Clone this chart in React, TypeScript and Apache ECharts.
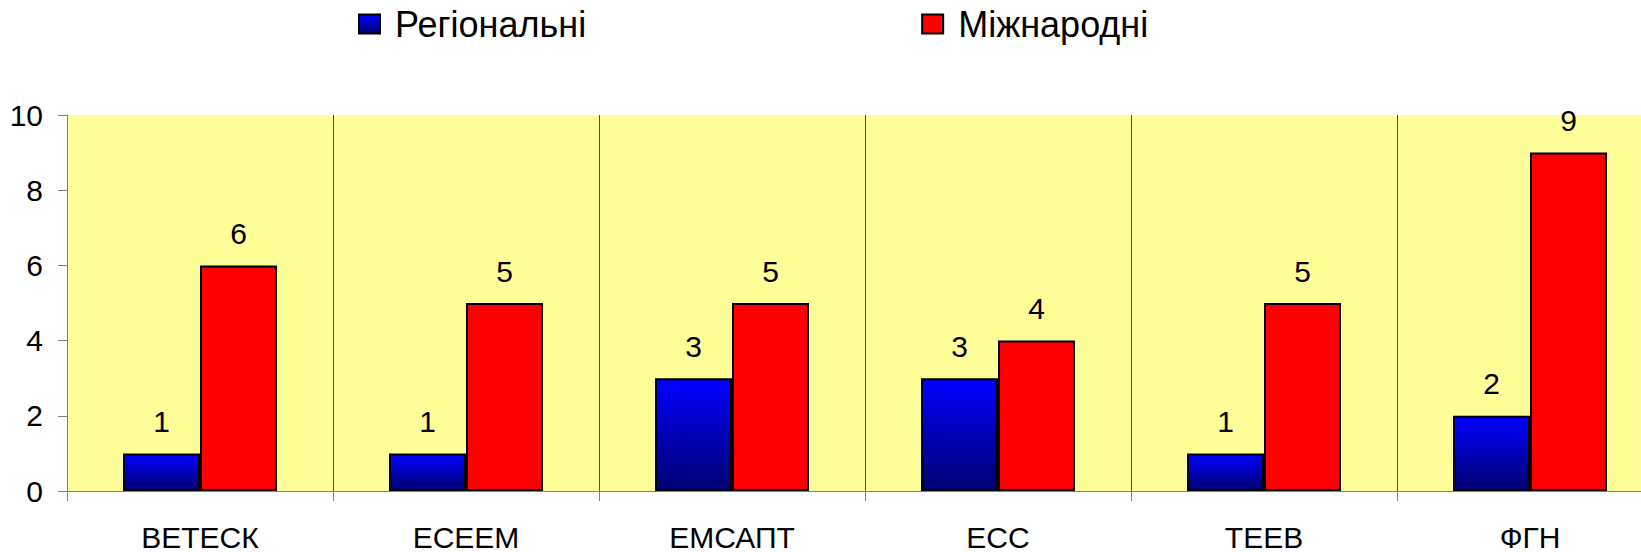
import React, { useEffect, useRef } from "react";
import * as echarts from "echarts";

const categories = ["ВЕТЕСК", "ЕСЕЕМ", "ЕМСАПТ", "ЕСС", "ТЕЕВ", "ФГН"];
const regional = [1, 1, 3, 3, 1, 2];
const international = [6, 5, 5, 4, 5, 9];
const seriesNames = ["Регіональні", "Міжнародні"];
const yTicks = { min: 0, max: 10, interval: 2 };

const FONT = 'Arial, "Liberation Sans", sans-serif';

export default function App() {
  const ref = useRef<HTMLDivElement>(null);
  useEffect(() => {
    if (!ref.current) return;
    const chart = echarts.init(ref.current, null, { renderer: "svg" });
    const blueGrad = new echarts.graphic.LinearGradient(0, 0, 0, 1, [
      { offset: 0, color: "#0000FF" },
      { offset: 1, color: "#000070" },
    ]);
    const label = {
      show: true,
      position: "top",
      distance: 17,
      color: "#000",
      fontSize: 30,
      fontFamily: FONT,
    };
    chart.setOption({
      animation: false,
      backgroundColor: "#FFFFFF",
      textStyle: { fontFamily: FONT },
      legend: {
        left: 358,
        top: 6,
        padding: 0,
        itemGap: 335,
        itemWidth: 21,
        itemHeight: 19,
        icon: "rect",
        textStyle: {
          fontSize: 36,
          color: "#000",
          fontFamily: FONT,
          padding: [0, 0, 0, 10],
        },
        data: seriesNames,
      },
      grid: {
        left: 67,
        top: 115,
        width: 1596,
        height: 379,
        show: true,
        backgroundColor: "#FFFF99",
        borderWidth: 0,
      },
      xAxis: {
        type: "category",
        data: categories,
        axisLine: { show: true, lineStyle: { color: "#808080", width: 1 } },
        axisTick: { show: true, length: 10, lineStyle: { color: "#808080" } },
        splitLine: { show: true, lineStyle: { color: "#993300", width: 1 } },
        axisLabel: {
          color: "#000",
          fontSize: 30,
          fontFamily: FONT,
          margin: 31,
        },
      },
      yAxis: {
        type: "value",
        min: yTicks.min,
        max: yTicks.max,
        interval: yTicks.interval,
        axisLine: { show: true, lineStyle: { color: "#808080", width: 1 } },
        axisTick: { show: true, length: 9, lineStyle: { color: "#808080" } },
        splitLine: { show: false },
        axisLabel: {
          color: "#000",
          fontSize: 30,
          fontFamily: FONT,
          margin: 24,
        },
      },
      series: [
        {
          name: seriesNames[0],
          type: "bar",
          data: regional,
          barWidth: 77,
          barGap: "0%",
          itemStyle: { color: blueGrad, borderColor: "#000", borderWidth: 2 },
          label,
        },
        {
          name: seriesNames[1],
          type: "bar",
          data: international,
          barWidth: 77,
          barGap: "0%",
          itemStyle: { color: "#FF0000", borderColor: "#000", borderWidth: 2 },
          label,
        },
      ],
    });
    return () => chart.dispose();
  }, []);
  return (
    <div style={{ position: "absolute", left: 0, top: 0, width: 1641, height: 552, overflow: "hidden" }}>
      <div ref={ref} style={{ width: 1700, height: 552 }} />
    </div>
  );
}
